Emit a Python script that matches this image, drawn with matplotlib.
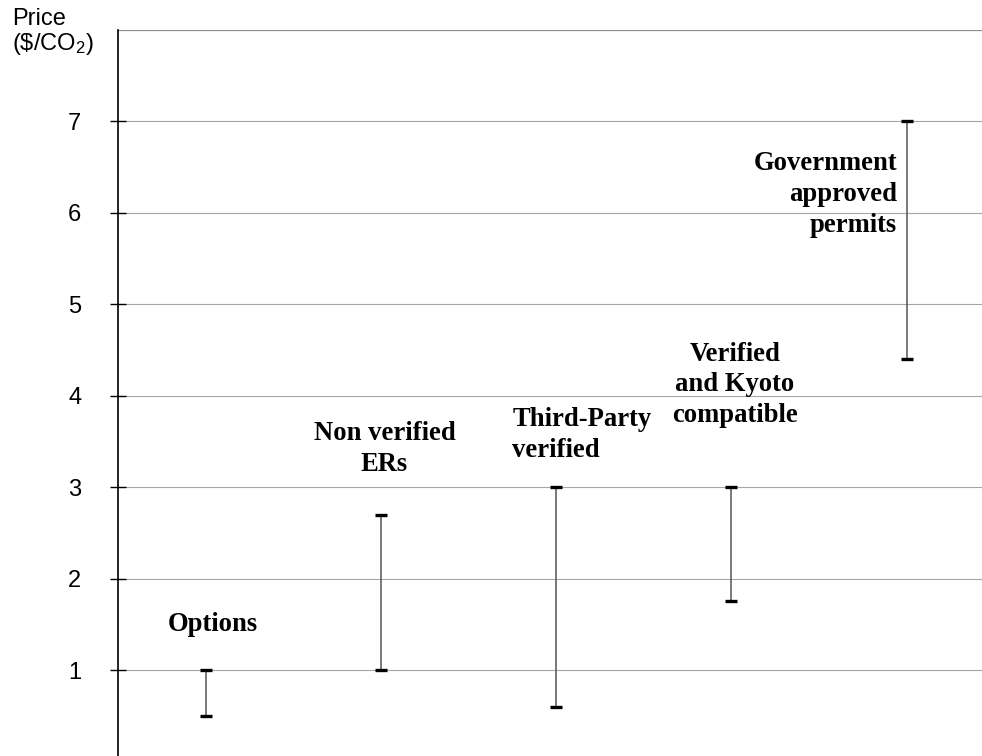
import matplotlib
matplotlib.use('Agg')
import matplotlib.pyplot as plt

# price ranges per credit type ($/CO2)
categories = ['Options', 'Non verified\nERs', 'Third-Party\nverified',
              'Verified\nand Kyoto\ncompatible', 'Government\napproved\npermits']
low = [0.5, 1.0, 0.6, 1.75, 4.4]
high = [1.0, 2.7, 3.0, 3.0, 7.0]
yticks = [1, 2, 3, 4, 5, 6, 7]

plt.rcParams['font.family'] = ['Liberation Sans', 'DejaVu Sans']
plt.rcParams['mathtext.default'] = 'regular'

fig = plt.figure(figsize=(9.82, 7.56), dpi=100)
ax = fig.add_axes([118 / 982, 0, 1 - 118 / 982, 1 - 30 / 756])

x = [i + 0.5 for i in range(len(categories))]

# gridlines
for v in yticks:
    ax.axhline(v, color='#a6a6a6', lw=0.8, zorder=0)
ax.axhline(8, color='#8c8c8c', lw=1.6, zorder=0)

# range bars
ax.vlines(x, low, high, color='#555555', lw=1.1, zorder=2)
ax.plot(x, low, ls='none', marker='_', ms=9, mew=2.4, color='black', zorder=3)
ax.plot(x, high, ls='none', marker='_', ms=9, mew=2.4, color='black', zorder=3)

# labels next to the bars
lab_x = [0.54, 1.52, 2.25, 3.52, 4.445]
lab_y = [1.50, 3.42, 3.57, 4.12, 6.20]
lab_ha = ['center', 'center', 'left', 'center', 'right']
for i in range(len(categories)):
    ax.text(lab_x[i], lab_y[i], categories[i], ha=lab_ha[i], va='center',
            multialignment=lab_ha[i], family='Liberation Serif', weight='bold',
            fontsize=19.2, linespacing=1.3)

ax.set_xlim(0, 4.93)
ax.set_ylim(0.06, 8)
ax.set_yticks(yticks)
ax.set_xticks([])
ax.tick_params(axis='y', direction='inout', length=11, width=1, pad=21,
               labelsize=17, color='black')

for s in ['top', 'right', 'bottom']:
    ax.spines[s].set_visible(False)
ax.spines['left'].set_linewidth(1.2)
ax.spines['left'].set_color('black')

fig.text(12 / 982, 1 - 8 / 756, 'Price\n(\\$/CO$_2$)', ha='left', va='top',
         fontsize=17, linespacing=1.05)

fig.savefig('out.png', dpi=100)
